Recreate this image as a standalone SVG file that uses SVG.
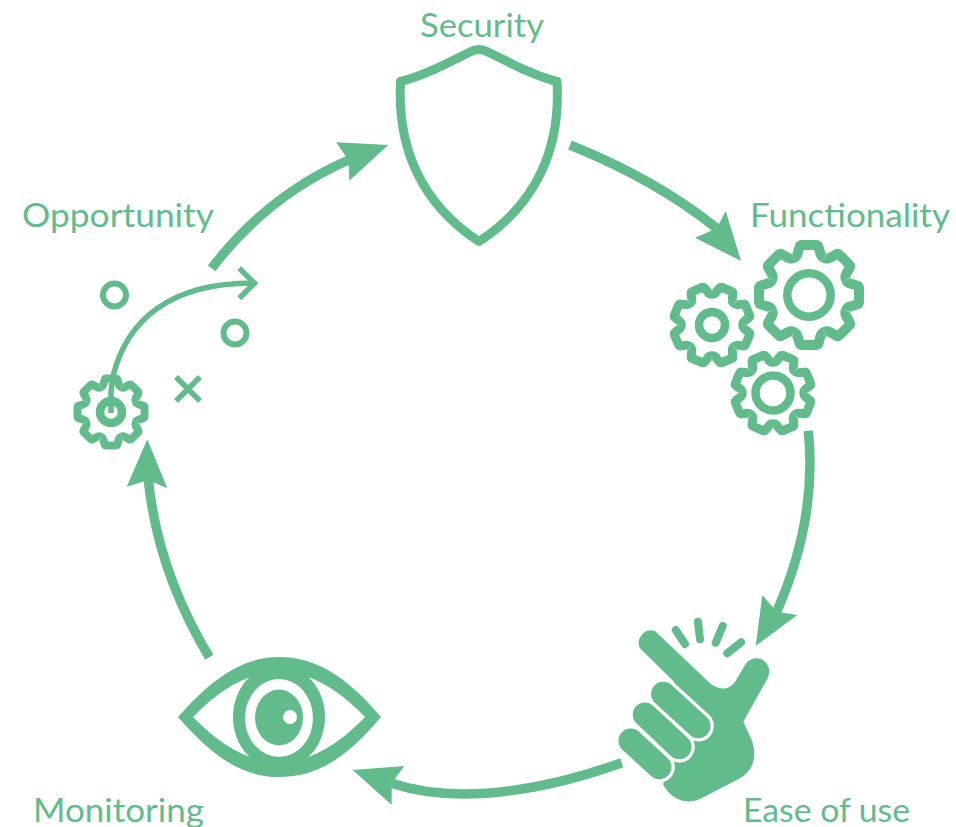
<svg xmlns="http://www.w3.org/2000/svg" xmlns:xlink="http://www.w3.org/1999/xlink" width="956" height="827" viewBox="0 0 956 827">
<style>
.lbl{font-family:"Lato","Open Sans","Liberation Sans",sans-serif;font-weight:400;font-size:32px;fill:#62bb8b}
.ln{fill:none;stroke:#62bb8b;stroke-width:9.500}
.rg{fill:none;stroke:#62bb8b;stroke-width:8.500}
.fg{fill:#62bb8b;stroke:none}
.gear{fill:none;stroke:#62bb8b;stroke-linejoin:round}
.gp{vector-effect:non-scaling-stroke}
.fw{fill:none;stroke:#fff;stroke-width:31;stroke-linecap:round}
.fi{fill:none;stroke:#62bb8b;stroke-width:24.500;stroke-linecap:round}
.sp{fill:none;stroke:#62bb8b;stroke-width:8;stroke-linecap:round}
.th{fill:none;stroke:#62bb8b;stroke-width:5.500}
</style>
<defs>
<path id="tooth" class="gp" d="M-30.600-73.900Q-25-76-23-82L-19-96Q-18-100-13-100H13Q18-100 19-96L23-82Q25-76 30.600-73.900"/>
<g id="gearShape">
<use xlink:href="#tooth"/><use xlink:href="#tooth" transform="rotate(45)"/><use xlink:href="#tooth" transform="rotate(90)"/><use xlink:href="#tooth" transform="rotate(135)"/><use xlink:href="#tooth" transform="rotate(180)"/><use xlink:href="#tooth" transform="rotate(225)"/><use xlink:href="#tooth" transform="rotate(270)"/><use xlink:href="#tooth" transform="rotate(315)"/>
</g>
</defs>
<rect width="956" height="827" fill="#fff"/>
<g id="connectors">
<path class="ln" d="M570 145Q656.700 180 716.700 228.300"/>
<path class="fg" d="M741 261L695 237.700L716.700 228.300L725.700 211Z"/>
<path class="ln" d="M808.300 430.700Q817.500 518.800 776.700 611.700"/>
<path class="fg" d="M755.700 646L762.300 595L776.700 611.700L797.300 615Z"/>
<path class="ln" d="M621.700 762.700C560 785 465 808 391.700 783.300"/>
<path class="fg" d="M352.700 770L404.300 766L391.700 783.300L391.700 805Z"/>
<path class="ln" d="M209.300 657.300Q157.800 571.300 148.300 480"/>
<path class="fg" d="M147.300 439.300L167.300 488.300L148.300 480L126.700 486.700Z"/>
<path class="ln" d="M211.700 268.300Q266.600 196 348.500 160"/>
<path class="fg" d="M388.300 145L349.300 180.700L348.500 160L336 142.300Z"/>
</g>
<g id="security">
<path fill="none" stroke="#62bb8b" stroke-width="9" stroke-linejoin="round" d="M400.500 81.500C420 77 440 67 470 52Q479 47 488 52C518 67 538 77 557 81.500C561 150 535 205 479 241.500C423 205 397 150 400.500 81.500Z"/>
<text class="lbl" x="420" y="36.500" textLength="124" lengthAdjust="spacingAndGlyphs">Security</text>
</g>
<g id="functionality">
<g class="gear" stroke-width="10" transform="translate(809 295) scale(.5)"><use xlink:href="#gearShape"/></g>
<circle class="rg" cx="809" cy="295" r="21.700"/>
<g class="gear" stroke-width="9" transform="translate(712 325) rotate(22.500) scale(.385)"><use xlink:href="#gearShape"/></g>
<circle class="rg" cx="712" cy="325" r="13"/>
<g class="gear" stroke-width="9" transform="translate(773 393) rotate(22.500) scale(.385)"><use xlink:href="#gearShape"/></g>
<circle class="rg" cx="773" cy="393" r="17.500"/>
<text class="lbl" x="750" y="227" textLength="200" lengthAdjust="spacingAndGlyphs">Functionality</text>
</g>
<g id="ease-of-use">
<path class="fg" d="M655 631L710 683.300C716.700 689.300 728.300 691.700 735 681.700L745 665C750 656.700 763.300 655 768.300 666.700C770.700 671.700 768.300 676.700 766.700 680L743.300 721.700L751.700 740C756.700 753.300 755 770 740 778.300L700 799C686.700 805 671.700 800 663.300 785L674 681.700L640 648.300A12.500 12.500 0 0 1 655 631Z"/>
<path class="fw" d="M630.700 740.700L659.300 767"/><path class="fi" d="M630.700 740.700L659.300 767"/>
<path class="fw" d="M645 714.700L679.300 747"/><path class="fi" d="M645 714.700L679.300 747"/>
<path class="fw" d="M663.300 694L698.300 726"/><path class="fi" d="M663.300 694L698.300 726"/>
<path class="sp" d="M675.700 630L685 644"/>
<path class="sp" d="M698 621.700L700 639.300"/>
<path class="sp" d="M722.700 626L715.700 642.700"/>
<path class="sp" d="M741 642.300L727.300 653.300"/>
<text class="lbl" x="743" y="822" textLength="167" lengthAdjust="spacingAndGlyphs">Ease of use</text>
</g>
<g id="monitoring">
<path class="fg" d="M178 717C215 675 245 657 279 657C315 657 345 675 381 717C345 760 315 777 279 777C245 777 215 760 178 717Z"/>
<path fill="#fff" d="M193 717C222 687 250 672 279 672C308 672 336 687 365 717C336 747 308 762 279 762C250 762 222 747 193 717Z"/>
<ellipse class="fg" cx="279" cy="717" rx="46" ry="52"/>
<ellipse fill="#fff" cx="279" cy="718" rx="34" ry="39"/>
<ellipse class="fg" cx="279" cy="717.500" rx="24" ry="28"/>
<circle fill="#fff" cx="290" cy="717" r="7"/>
<text class="lbl" x="33" y="822" textLength="171" lengthAdjust="spacingAndGlyphs">Monitoring</text>
</g>
<g id="opportunity">
<g class="gear" stroke-width="8" transform="translate(111 412) scale(.335)"><use xlink:href="#gearShape"/></g>
<circle class="rg" cx="111" cy="412" r="11"/>
<path class="th" d="M111 413V392L113 376C127 320 170 283 253 283"/>
<path class="th" d="M239.300 268.300L254.500 283.300L239.300 298.300"/>
<circle fill="none" stroke="#62bb8b" stroke-width="6" cx="114.500" cy="295" r="11.500"/>
<circle fill="none" stroke="#62bb8b" stroke-width="6" cx="235" cy="333" r="11.500"/>
<path class="th" d="M176 377L200 401M200 377L176 401"/>
<text class="lbl" x="22" y="227" textLength="192" lengthAdjust="spacingAndGlyphs">Opportunity</text>
</g>
</svg>
